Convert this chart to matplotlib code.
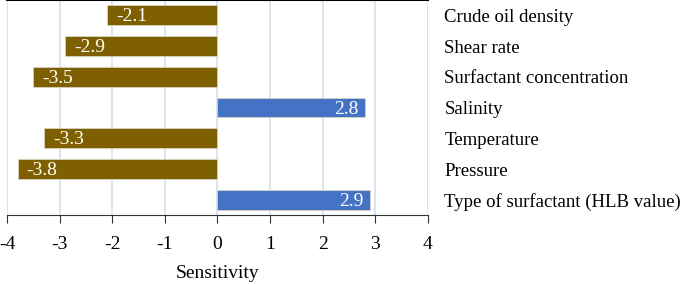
import matplotlib
matplotlib.use("Agg")
import matplotlib.pyplot as plt

factors = ["Crude oil density", "Shear rate", "Surfactant concentration", "Salinity",
           "Temperature", "Pressure", "Type of surfactant (HLB value)"]
values = [-2.1, -2.9, -3.5, 2.8, -3.3, -3.8, 2.9]
xticks = [-4, -3, -2, -1, 0, 1, 2, 3, 4]

plt.rcParams['font.family'] = ['Liberation Serif', 'DejaVu Serif']

fig = plt.figure(figsize=(6.85, 2.84), dpi=100)
ax = fig.add_axes([7/685, 1-215/284, 421/685, 215/284])

pos = list(range(len(factors)))
colors = ['#7F6000' if v < 0 else '#4472C4' for v in values]
ax.barh(pos, values, height=0.65, color=colors, edgecolor='#D8D2C0', linewidth=0.6, zorder=3)

for p, v in zip(pos, values):
    if v < 0:
        ax.text(v + 0.17, p + 0.05, f"{v:.1f}", color='white', ha='left', va='center', fontsize=14, zorder=4)
    else:
        ax.text(v - 0.12, p + 0.05, f"{v:.1f}", color='white', ha='right', va='center', fontsize=14, zorder=4)
    ax.text(4.31, p + 0.07, factors[p], ha='left', va='center', fontsize=13.5, clip_on=False)

ax.set_xlim(-4, 4)
ax.set_ylim(6.5, -0.5)
ax.set_xticks(xticks)
ax.set_xticklabels([str(t) for t in xticks], fontsize=14)
ax.set_yticks([])
ax.grid(axis='x', color='#D6DFF0', linewidth=1.2, zorder=0)
for s in ['left', 'right']:
    ax.spines[s].set_visible(False)
ax.spines['top'].set_color('black')
ax.spines['top'].set_linewidth(1.5)
ax.spines['bottom'].set_color('#333333')
ax.tick_params(axis='x', direction='out', length=6, color='#333333', pad=9)
ax.set_xlabel("Sensitivity", fontsize=14, labelpad=9)

fig.savefig("out.png", dpi=100)
